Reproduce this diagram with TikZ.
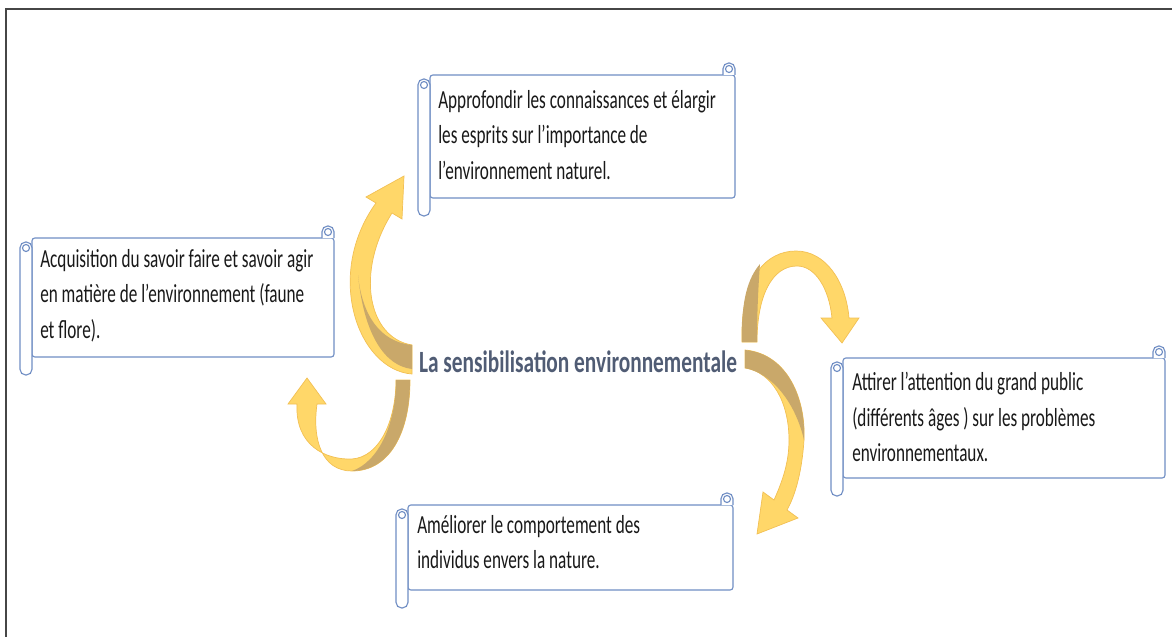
\documentclass[tikz,border=0pt]{standalone}
\usepackage{fontspec}
\setmainfont[FakeStretch=0.66]{Carlito}
\newfontfamily\titlefont[FakeStretch=0.69]{Carlito}
\definecolor{scrollline}{RGB}{112,142,196}
\definecolor{arrowlight}{RGB}{255,215,105}
\definecolor{arrowdark}{RGB}{201,168,106}
\definecolor{arrowedge}{RGB}{242,192,84}
\definecolor{titlegrey}{RGB}{80,92,116}
\definecolor{framegrey}{RGB}{70,70,70}
\tikzset{
  scrollpart/.style={draw=scrollline, line width=0.8pt, fill=white},
  boxtext/.style={anchor=north west, inner sep=0pt, align=left, text=black!90, font=\fontsize{18.5}{25.2}\selectfont},
  titletext/.style={inner sep=0pt, text=titlegrey, font=\titlefont\bfseries\fontsize{22}{26}\selectfont},
  bandlight/.style={fill=arrowlight, draw=arrowedge, line width=0.5pt},
  banddark/.style={fill=arrowdark}
}
% #1 left, #2 top, #3 right, #4 bottom of the scroll body (pixels)
\newcommand\scrollshape[4]{%
  \draw[scrollpart, rounded corners=2pt] (#1,#2) -- (#3,#2) -- (#3,#4) -- (#1,#4) -- cycle;
  \draw[scrollpart, rounded corners=4pt] ({#3-12},#2) -- ({#3-12},{#2-12}) -- (#3,{#2-12}) -- (#3,#2);
  \draw[scrollpart] ({#3-6},{#2-6}) circle[radius=2.5pt];
  \draw[scrollpart, rounded corners=4pt] (#1,{#2+4}) -- ({#1-12},{#2+4}) -- ({#1-12},{#4+18}) -- (#1,{#4+18}) -- cycle;
  \draw[scrollpart] ({#1-6},{#2+10}) circle[radius=2.5pt];
}
\begin{document}
\begin{tikzpicture}[x=0.025cm, y=-0.025cm]
    \useasboundingbox (0,0) rectangle (1172,637);
    \draw[framegrey, line width=1.4pt] (6,637) -- (6,9) -- (1172,9);

    \scrollshape{430}{75}{735}{198}
    \scrollshape{32}{238}{334}{357}
    \scrollshape{843}{358}{1165}{478}
    \scrollshape{408}{505}{733}{590}

    \node[boxtext] (appro) at (438,90) {Approfondir les connaissances et élargir\\les esprits sur l’importance de\\l’environnement naturel.};
    \node[boxtext] (acquis) at (40,249) {Acquisition du savoir faire et savoir agir\\en matière de l’environnement (faune\\et flore).};
    \node[boxtext] (attir) at (852,372) {Attirer l’attention du grand public\\(différents âges ) sur les problèmes\\environnementaux.};
    \node[boxtext] (amelio) at (417,515) {Améliorer le comportement des\\individus envers la nature.};
    \node[titletext] (sensib) at (578,362) {La sensibilisation environnementale};

    \path[bandlight] (412,374) .. controls (358,370) and (324,275) .. (376,203) -- (366,197) -- (404,176) -- (402,219) -- (392,213) .. controls (355,272) and (368,338) .. (412,345) -- cycle;
    \path[banddark] (412,345) .. controls (380,342) and (362,315) .. (358,275) .. controls (364,335) and (385,366) .. (412,369) -- cycle;

    \path[bandlight] (410,380) .. controls (410,432) and (390,471) .. (352,471) .. controls (322,471) and (312,440) .. (317,404) -- (326,404) -- (307,378) -- (288,404) -- (297,404) .. controls (295,445) and (325,460) .. (352,459) .. controls (380,457) and (396,420) .. (396,380) -- cycle;
    \path[banddark] (410,380) .. controls (410,432) and (390,471) .. (352,471) .. controls (378,462) and (396,425) .. (396,380) -- cycle;

    \path[bandlight] (742,342) .. controls (740,278) and (766,251) .. (796,251) .. controls (826,251) and (846,282) .. (849,318) -- (859,318) -- (842,343) -- (821,318) -- (832,318) .. controls (829,288) and (815,266) .. (797,266) .. controls (772,266) and (757,296) .. (757,342) -- cycle;
    \path[banddark] (742,342) .. controls (741,300) and (748,278) .. (760,264) .. controls (758,290) and (757,318) .. (757,342) -- cycle;

    \path[bandlight] (745,350) .. controls (788,354) and (806,400) .. (804,440) .. controls (802,470) and (796,494) .. (787,510) -- (798,518) -- (757,534) -- (763,492) -- (774,500) .. controls (783,480) and (789,462) .. (789,440) .. controls (789,402) and (772,372) .. (745,368) -- cycle;
    \path[banddark] (745,350) .. controls (788,354) and (806,400) .. (804,440) .. controls (796,405) and (774,374) .. (745,368) -- cycle;
\end{tikzpicture}
\end{document}
